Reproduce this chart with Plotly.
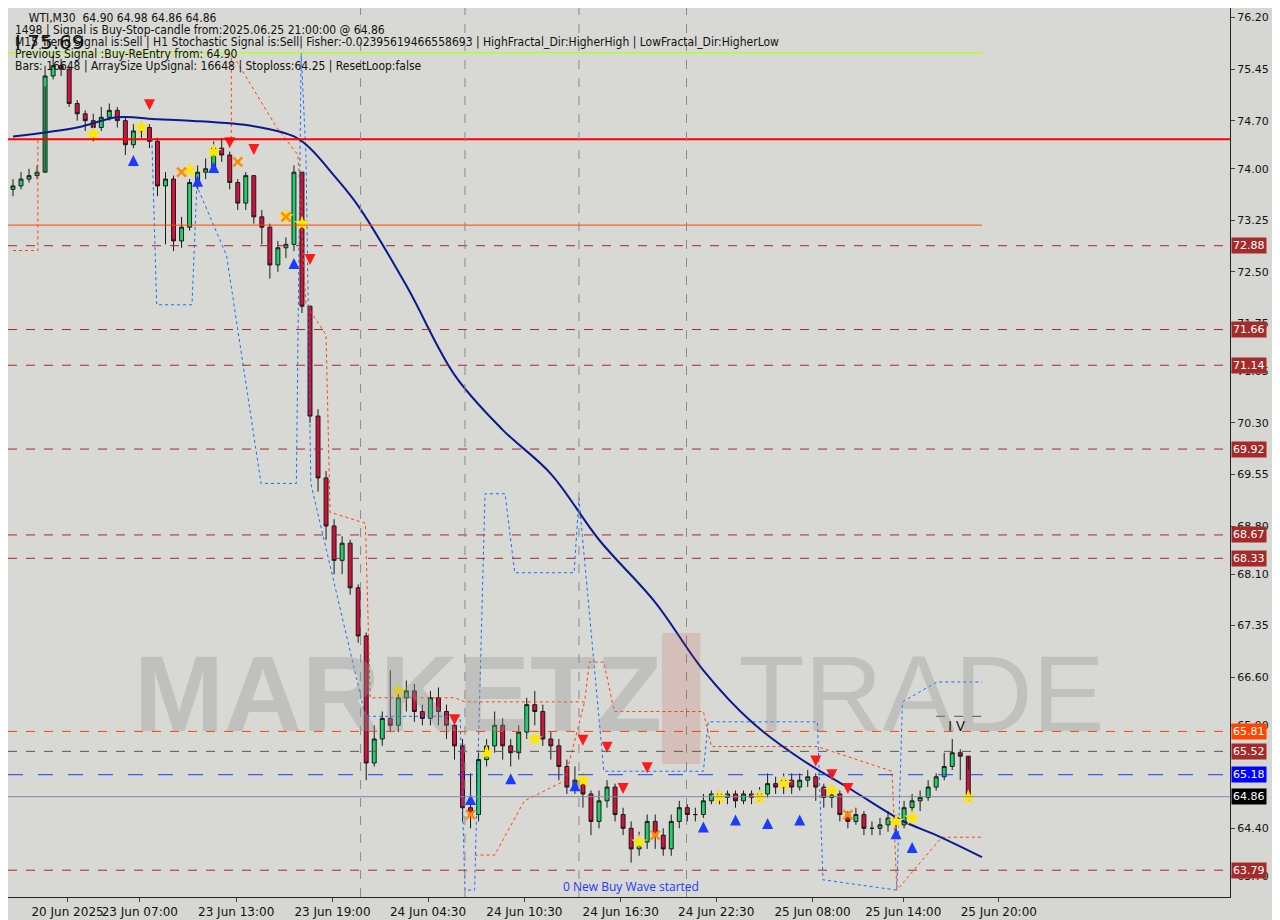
import plotly.graph_objects as go

C = [73.75,73.85,73.9,73.95,75.35,75.5,75.45,74.95,74.8,74.7,74.6,74.75,74.85,74.7,74.35,74.55,74.6,74.4,73.75,73.85,
     72.95,73.15,73.8,73.95,74.0,74.3,74.2,73.8,73.5,73.9,73.3,73.15,72.6,72.85,72.9,73.95,72.0,70.4,69.5,68.8,
     68.3,68.55,67.9,67.2,65.35,65.7,66.0,65.9,66.3,66.4,66.1,66.0,66.3,66.1,65.9,65.6,64.7,64.6,65.4,65.6,
     65.9,65.6,65.5,65.8,66.2,66.1,65.7,65.6,65.3,65.0,65.1,64.9,64.5,64.8,65.0,64.6,64.4,64.1,64.2,64.5,
     64.3,64.1,64.5,64.7,64.6,64.6,64.8,64.9,64.85,64.9,64.8,64.9,64.85,64.9,65.05,65.0,65.1,65.0,65.1,65.15,
     65.0,64.85,64.9,64.6,64.5,64.6,64.4,64.4,64.45,64.55,64.45,64.7,64.8,64.85,65.0,65.15,65.3,65.5,65.45,64.86]
O_FIRST = 73.7
H = [73.85,73.95,74.0,74.05,75.5,75.65,75.6,75.5,75.0,74.85,74.8,74.9,74.95,74.9,74.75,74.65,74.7,74.65,74.45,73.95,
     73.9,73.3,73.85,74.05,74.15,74.4,74.45,74.25,73.85,73.95,73.9,73.4,73.2,72.95,73.0,74.05,73.95,72.0,70.5,69.6,
     68.9,68.65,68.6,67.95,67.25,65.9,66.1,66.7,66.5,66.55,66.5,66.2,66.4,66.45,66.2,66.0,65.7,65.2,65.5,65.7,
     66.1,66.0,65.7,65.9,66.3,66.4,66.2,65.8,65.7,65.4,65.3,65.2,64.95,64.95,65.1,65.05,64.7,64.5,64.35,64.6,
     64.6,64.4,64.6,64.8,64.75,64.7,64.9,64.95,64.95,64.95,64.95,64.95,64.95,65.0,65.2,65.15,65.2,65.2,65.2,65.25,
     65.2,65.05,65.0,64.95,64.65,64.7,64.65,64.5,64.55,64.65,64.6,64.8,64.9,64.95,65.1,65.2,65.5,65.7,65.55,65.25]
L = [73.6,73.7,73.8,73.85,75.2,75.3,75.35,74.9,74.7,74.55,74.4,74.55,74.7,74.6,74.2,74.3,74.45,74.3,73.6,72.9,
     72.8,72.85,73.1,73.7,73.85,73.95,74.1,73.7,73.4,73.4,73.2,72.9,72.4,72.5,72.7,72.8,71.9,70.3,69.3,68.6,
     68.1,68.1,67.8,67.1,65.1,65.3,65.6,65.8,65.8,66.1,65.95,65.9,65.9,65.9,65.7,65.4,64.5,64.4,64.5,65.3,
     65.5,65.4,65.3,65.4,65.7,65.9,65.6,65.4,65.1,64.9,64.9,64.7,64.3,64.4,64.7,64.5,64.3,63.9,64.0,64.1,
     64.1,64.0,64.0,64.4,64.5,64.5,64.55,64.75,64.75,64.75,64.7,64.75,64.75,64.8,64.85,64.9,64.9,64.9,64.95,65.0,
     64.8,64.7,64.7,64.5,64.4,64.45,64.3,64.3,64.3,64.35,64.3,64.4,64.55,64.65,64.8,64.95,65.1,65.25,65.1,64.8]

tick_pos = [6.8,15.8,27.8,39.8,51.7,63.7,75.7,87.6,99.6,110.9,122.8]
tick_txt = ["20 Jun 2025","23 Jun 07:00","23 Jun 13:00","23 Jun 19:00","24 Jun 04:30","24 Jun 10:30",
            "24 Jun 16:30","24 Jun 22:30","25 Jun 08:00","25 Jun 14:00","25 Jun 20:00"]
y_ticks = [76.20,75.45,74.70,74.00,73.25,72.50,71.75,71.05,70.30,69.55,68.80,68.10,67.35,66.60,65.90,64.40,63.70]

ma_x = [0,8,13,18,22,30,35,37,40,43,49,55,61,67,73,80,86,92,98,104.6,110.8,115,120.7]
ma_y = [74.47,74.6,74.75,74.72,74.7,74.62,74.47,74.3,73.9,73.46,72.3,71.0,70.2,69.56,68.6,67.69,66.7,65.95,65.42,64.95,64.51,64.3,63.98]

orng_x = [0,3.1,3.1,27.2,27.2,32.8,35.5,36.5,39,39.5,43.9,44.5,55,56.3,71.2,71.8,73.6,74.9,86,87,100.2,109.5,110.1,115.7,120.7]
orng_y = [72.81,72.81,74.43,74.43,75.69,74.61,74.2,72.02,71.58,69.0,68.84,66.3,66.3,66.24,66.24,66.82,66.82,66.10,66.10,65.59,65.59,65.23,63.50,64.27,64.27]
orng2_x = [57.5,60,63.7,68.7,71.2]
orng2_y = [64.01,64.01,64.80,65.09,66.24]
blue_x = [17.3,17.9,22.3,22.9,26.6,30.9,35.3,35.9,36.5,37.1,43.9,55.7,56.3,57.5,58.8,61.3,62.5,69.9,70.5,73.6,86,86.6,100.2,100.9,110.1,110.8,115.1,120.7]
blue_y = [74.43,72.02,72.02,73.75,72.74,69.42,69.42,75.69,74.18,69.42,66.03,66.03,63.50,63.50,69.27,69.27,68.12,68.12,69.20,65.23,65.23,65.95,65.95,63.65,63.50,66.24,66.53,66.53]

star_x = [10,16,22,25,34,36,48,59,65,71,78,88,93,96,102,110,112,119]
star_y = [74.5,74.6,73.98,74.25,73.3,73.2,66.4,65.5,65.7,65.1,64.2,64.85,64.85,65.05,64.95,64.5,64.55,64.85]
cross_x = [21,28,34,57,80,104]
cross_y = [73.95,74.1,73.3,64.6,64.3,64.6]
up_x = [15,23,25,35,57,62,70,86,90,94,98,110,112]
up_y = [74.2,73.9,74.1,72.7,64.9,65.2,65.1,64.5,64.6,64.55,64.6,64.4,64.2]
dn_x = [17,27,30,37,55,71,74,76,79,100,102,104]
dn_y = [74.85,74.3,74.2,72.6,65.9,65.6,65.5,64.9,65.2,65.3,65.1,64.9]

levels = [(72.88,"#a52a2a","dash"),(71.66,"#a52a2a","dash"),(71.14,"#a52a2a","dash"),(69.92,"#a52a2a","dash"),
          (68.67,"#a52a2a","dash"),(68.33,"#a52a2a","dash"),(65.52,"#555555","dash"),(65.81,"#ff4500","dash"),
          (63.79,"#a52a2a","dash")]
labels = [(72.88,"#a52a2a"),(71.66,"#a52a2a"),(71.14,"#a52a2a"),(69.92,"#a52a2a"),(68.67,"#a52a2a"),
          (68.33,"#a52a2a"),(65.81,"#ff4500"),(65.52,"#a52a2a"),(65.18,"#0000ff"),(64.86,"#000000"),(63.79,"#a52a2a")]

n = len(C)
X = list(range(n))
O = [O_FIRST] + C[:-1]

fig = go.Figure()
fig.add_trace(go.Scatter(x=orng_x, y=orng_y, mode="lines", line=dict(color="#ff4500", width=1, dash="dot")))
fig.add_trace(go.Scatter(x=orng2_x, y=orng2_y, mode="lines", line=dict(color="#ff4500", width=1, dash="dot")))
fig.add_trace(go.Scatter(x=blue_x, y=blue_y, mode="lines", line=dict(color="#1e6bff", width=1, dash="dot")))
fig.add_trace(go.Candlestick(x=X, open=O, high=H, low=L, close=C,
    increasing=dict(fillcolor="#1fd06a", line=dict(color="#1a1a1a", width=1)),
    decreasing=dict(fillcolor="#d2123c", line=dict(color="#1a1a1a", width=1)), whiskerwidth=0))
fig.add_trace(go.Scatter(x=ma_x, y=ma_y, mode="lines", line=dict(color="#0b1a8c", width=2, shape="spline")))
fig.add_trace(go.Scatter(x=star_x, y=star_y, mode="markers", marker=dict(symbol="star", size=12, color="#ffe600")))
fig.add_trace(go.Scatter(x=cross_x, y=cross_y, mode="markers", marker=dict(symbol="x-thin", size=9, line=dict(color="#ff8c00", width=2.5))))
fig.add_trace(go.Scatter(x=up_x, y=up_y, mode="markers", marker=dict(symbol="arrow-up", size=11, color="#1a3cff")))
fig.add_trace(go.Scatter(x=dn_x, y=dn_y, mode="markers", marker=dict(symbol="arrow-down", size=11, color="#ff1a1a")))

shapes = []
for p, col, d in levels:
    shapes.append(dict(type="line", xref="paper", x0=0, x1=1, yref="y", y0=p, y1=p, line=dict(color=col, width=1, dash=d)))
shapes.append(dict(type="line", xref="paper", x0=0, x1=1, y0=65.18, y1=65.18, line=dict(color="#1e3cff", width=1, dash="longdash")))
shapes.append(dict(type="line", xref="paper", x0=0, x1=1, y0=64.86, y1=64.86, line=dict(color="#8088a0", width=1)))
shapes.append(dict(type="line", xref="paper", x0=0, x1=1, y0=74.43, y1=74.43, line=dict(color="#ff0000", width=2)))
shapes.append(dict(type="line", x0=-0.6, x1=120.7, y0=73.18, y1=73.18, line=dict(color="#ff4500", width=1)))
shapes.append(dict(type="line", x0=-0.6, x1=120.7, y0=75.69, y1=75.69, line=dict(color="#adff2f", width=1.5)))
shapes.append(dict(type="line", x0=115, x1=120.7, y0=66.03, y1=66.03, line=dict(color="#555", width=1, dash="dash")))
for vx in [43.3, 56.3, 70.5, 83.9]:
    shapes.append(dict(type="line", x0=vx, x1=vx, yref="paper", y0=0, y1=1, line=dict(color="#8a8a8a", width=1, dash="dash")))

ann = []
for p, col in labels:
    ann.append(dict(x=1, xref="paper", xanchor="left", y=p, yref="y", text=f"{p:.2f}", showarrow=False,
                    bgcolor=col, font=dict(color="white", size=11, family="DejaVu Sans"), borderpad=1, xshift=1))
hdr = ["    WTI,M30  64.90 64.98 64.86 64.86",
       "1498 | Signal is Buy-Stop-candle from:2025.06.25 21:00:00 @ 64.86",
       "M15 Trend Signal is:Sell | H1 Stochastic Signal is:Sell| Fisher:-0.02395619466558693 | HighFractal_Dir:HigherHigh | LowFractal_Dir:HigherLow",
       "Previous Signal :Buy-ReEntry from: 64.90",
       "Bars: 16648 | ArraySize UpSignal: 16648 | Stoploss:64.25 | ResetLoop:false"]
for k, t in enumerate(hdr):
    ann.append(dict(x=0.004, xref="paper", y=1 - (1 + 12 * k) / 889, yref="paper", xanchor="left", yanchor="top",
                    text=t, showarrow=False, font=dict(size=12, color="#111", family="DejaVu Sans Condensed")))
ann.append(dict(x=0.004, xref="paper", y=1 - 20 / 889, yref="paper", xanchor="left", yanchor="top", text="I 75.69",
                showarrow=False, font=dict(size=20, color="#111", family="DejaVu Sans")))
ann.append(dict(x=0.5, xref="paper", y=66.3, text="<b>MARKETZ</b><span style='color:rgba(200,60,60,0.45)'>▌</span>TRADE",
                showarrow=False, font=dict(size=108, color="rgba(150,150,150,0.35)", family="Liberation Sans")))
ann.append(dict(x=117.5, y=65.9, text="I V", showarrow=False, font=dict(size=15, color="#111")))
ann.append(dict(x=77, y=63.55, text="0 New Buy Wave started", showarrow=False, font=dict(size=12, color="#1a3cff")))

fig.update_layout(width=1272, height=912, margin=dict(l=0, r=50, t=0, b=23), showlegend=False,
                  paper_bgcolor="#d6d6d2", plot_bgcolor="#d8d8d4", shapes=shapes, annotations=ann,
                  xaxis=dict(range=[-0.62, 151.6], tickvals=tick_pos, ticktext=tick_txt, showgrid=False, automargin=False,
                             rangeslider=dict(visible=False), ticks="outside", ticklen=4, tickangle=0,
                             tickfont=dict(size=12, color="#111", family="DejaVu Sans"), showline=True, linecolor="#222", mirror=True, zeroline=False),
                  yaxis=dict(range=[63.40, 76.34], side="right", tickvals=y_ticks, ticktext=[f"{v:.2f}" for v in y_ticks], automargin=False,
                             showgrid=False, ticks="outside", ticklen=4, tickfont=dict(size=11, color="#111", family="DejaVu Sans"),
                             showline=True, linecolor="#222", mirror=True, zeroline=False))
fig.write_html("out.html")
